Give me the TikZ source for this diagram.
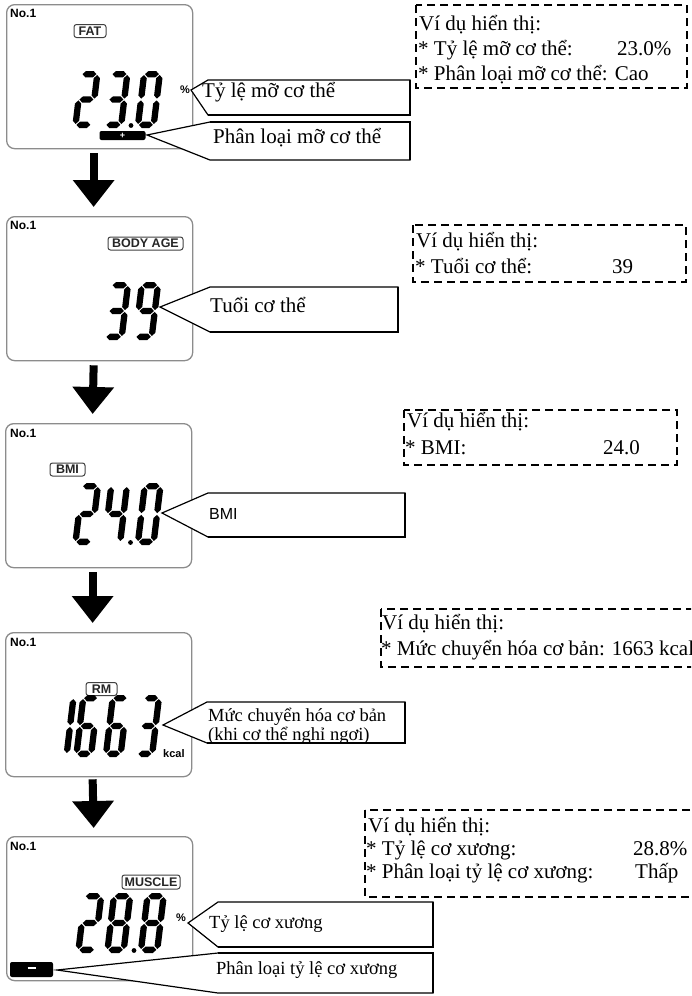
\documentclass[tikz,border=0pt]{standalone}
\usepackage{fontspec}
\setmainfont{Liberation Serif}
\setsansfont{Liberation Sans}
\usetikzlibrary{arrows.meta}

% seven-segment digit machinery
\newcommand\sgT{6.3}
\newcommand\sgG{0.9}
\newcommand\hsegm[3]{\fill (#1,#3) -- ({#1+\sgT/2},{#3-\sgT/2}) -- ({#2-\sgT/2},{#3-\sgT/2}) -- (#2,#3) -- ({#2-\sgT/2},{#3+\sgT/2}) -- ({#1+\sgT/2},{#3+\sgT/2}) -- cycle;}
\newcommand\vsegm[3]{\fill (#1,#2) -- ({#1+\sgT/2},{#2+\sgT/2}) -- ({#1+\sgT/2},{#3-\sgT/2}) -- (#1,#3) -- ({#1-\sgT/2},{#3-\sgT/2}) -- ({#1-\sgT/2},{#2+\sgT/2}) -- cycle;}
\newcommand\sga{\hsegm{\sgT/2+\sgG}{\sgW-\sgT/2-\sgG}{-\sgH+\sgT/2}}
\newcommand\sgg{\hsegm{\sgT/2+\sgG}{\sgW-\sgT/2-\sgG}{-\sgH/2}}
\newcommand\sgd{\hsegm{\sgT/2+\sgG}{\sgW-\sgT/2-\sgG}{-\sgT/2}}
\newcommand\sgf{\vsegm{\sgT/2}{-\sgH+\sgT/2+\sgG}{-\sgH/2-\sgG}}
\newcommand\sgb{\vsegm{\sgW-\sgT/2}{-\sgH+\sgT/2+\sgG}{-\sgH/2-\sgG}}
\newcommand\sge{\vsegm{\sgT/2}{-\sgH/2+\sgG}{-\sgT/2-\sgG}}
\newcommand\sgc{\vsegm{\sgW-\sgT/2}{-\sgH/2+\sgG}{-\sgT/2-\sgG}}
\newcommand\sevenseg[5]{%
  \begin{scope}[shift={(#1,#2)},xslant=0.12]
    \def\sgW{#3}\def\sgH{#4}%
    \foreach \s in {#5}{\csname sg\s\endcsname}
  \end{scope}}

\newcommand\bodyfont{\fontsize{21}{25}\selectfont}
\newcommand\smallbody{\fontsize{18.5}{19}\selectfont}

\tikzset{
  panel/.style={draw=black!45, line width=1.3pt, rounded corners=8pt,
    minimum width=186pt, minimum height=144pt, anchor=north west, inner sep=0pt},
  lcdlabel/.style={draw=black!75, line width=1pt, rounded corners=2.5pt,
    font=\sffamily\bfseries\fontsize{12.5}{12.5}\selectfont, text=black!85,
    inner sep=0pt, minimum height=13pt},
  lcdno/.style={anchor=north west, inner sep=0pt,
    font=\sffamily\bfseries\fontsize{12}{12}\selectfont},
  lcdunit/.style={inner sep=0pt, font=\sffamily\bfseries\fontsize{11}{11}\selectfont},
  signbar/.style={fill=black, rounded corners=2pt, inner sep=0pt, text=white,
    font=\sffamily\bfseries\fontsize{9}{9}\selectfont},
  blockarrow/.style={line width=8pt, -{Triangle[length=27pt,width=40pt]}},
  callout/.style={draw=black, line width=1.2pt, fill=white, line join=miter},
  calloutshadow/.style={draw=black, line width=2.4pt},
  exbox/.style={draw=black, line width=2pt, dash pattern=on 8pt off 5pt},
  txt/.style={anchor=base west, inner sep=0pt, font=\bodyfont},
  stxt/.style={anchor=base west, inner sep=0pt, font=\smallbody},
}

\begin{document}
\begin{tikzpicture}[x=1pt,y=-1pt]
\useasboundingbox (0,0) rectangle (691,996);
\clip (0,0) rectangle (691,996);

% ---------------- panels ----------------
\node[panel] (p1) at (6,4) {};
\node[panel] (p2) at (6,216) {};
\node[panel] (p3) at (5,423) {};
\node[panel] (p4) at (5,632) {};
\node[panel] (p5) at (6,836) {};

\node[lcdno] (n1) at (10,9) {No.1};
\node[lcdno] (n2) at (10,221) {No.1};
\node[lcdno] (n3) at (10,429) {No.1};
\node[lcdno] (n4) at (10,638) {No.1};
\node[lcdno] (n5) at (10,842) {No.1};

\node[lcdlabel, minimum width=32pt] (lfat) at (90,31) {FAT};
\node[lcdlabel, minimum width=75pt] (lage) at (145.5,243.5) {BODY AGE};
\node[lcdlabel, minimum width=35pt] (lbmi) at (67.5,469.5) {BMI};
\node[lcdlabel, minimum width=31pt] (lrm) at (101.5,689) {RM};
\node[lcdlabel, minimum width=58pt, minimum height=14pt] (lmus) at (151,882) {MUSCLE};

% digits panel 1: 23.0
\sevenseg{72}{128}{22}{57}{a,b,g,e,d}
\sevenseg{102}{128}{22}{57}{a,b,g,c,d}
\fill (131,125.5) circle (2.4);
\sevenseg{134.5}{128}{22}{57}{a,b,c,d,e,f}
\node[lcdunit] (u1) at (185,90) {\%};
\node[signbar, minimum width=46pt, minimum height=9pt] (bar1) at (122.5,135.5) {+};

% digits panel 2: 39
\sevenseg{102}{340}{22.5}{58}{a,b,g,c,d}
\sevenseg{132}{340}{22.5}{58}{a,b,c,d,f,g}

% digits panel 3: 24.0
\sevenseg{72}{545}{22}{62}{a,b,g,e,d}
\sevenseg{101}{545}{22}{62}{f,g,b,c}
\fill (130.5,542.5) circle (2.4);
\sevenseg{134.5}{545}{22}{62}{a,b,c,d,e,f}

% digits panel 4: 1663
\sevenseg{49}{757}{20.5}{62}{b,c}
\sevenseg{73}{757}{21}{62}{a,f,g,e,c,d}
\sevenseg{102.5}{757}{21}{62}{a,f,g,e,c,d}
\sevenseg{134}{757}{21}{62}{a,b,g,c,d}
\node[lcdunit, anchor=base west] (u4) at (163,757) {kcal};

% digits panel 5: 28.8
\sevenseg{75}{953}{22.5}{60}{a,b,g,e,d}
\sevenseg{104}{953}{22.5}{60}{a,b,c,d,e,f,g}
\fill (134,950.5) circle (2.4);
\sevenseg{137.5}{953}{22.5}{60}{a,b,c,d,e,f,g}
\node[lcdunit] (u5) at (181,918) {\%};
\node[signbar, minimum width=43pt, minimum height=15pt] (bar5) at (31.5,969.5) {\rule[2.5pt]{8pt}{2pt}};

% ---------------- arrows ----------------
\draw[blockarrow] ([xshift=-6pt,yshift=-4pt]p1.south) -- ([xshift=-6pt,yshift=9pt]p2.north);
\draw[blockarrow] ([xshift=-6pt,yshift=-4pt]p2.south) -- ([xshift=-6pt,yshift=9pt]p3.north);
\draw[blockarrow] ([xshift=-6pt,yshift=-4pt]p3.south) -- ([xshift=-6pt,yshift=9pt]p4.north);
\draw[blockarrow] ([xshift=-6pt,yshift=-2pt]p4.south) -- ([xshift=-6pt,yshift=8pt]p5.north);

% ---------------- callouts ----------------
% 1a
\draw[callout] (191,90) -- (208,80) -- (410,80) -- (410,115) -- (208,115) -- cycle;
\draw[calloutshadow] (410,80) -- (410,115) -- (208,115);
\node[txt] (c1a) at (202,97) {Tỷ lệ mỡ cơ thể};
% 1b
\draw[callout] (147,135) -- (210,122) -- (410,122) -- (410,160) -- (210,160) -- cycle;
\draw[calloutshadow] (210,122) -- (410,122) -- (410,160);
\node[txt] (c1b) at (213,143) {Phân loại mỡ cơ thể};
% 2
\draw[callout] (160,307) -- (210,287) -- (398,287) -- (398,332) -- (210,332) -- cycle;
\draw[calloutshadow] (398,287) -- (398,332) -- (210,332);
\node[txt] (c2) at (210,312) {Tuổi cơ thể};
% 3
\draw[callout] (162,513) -- (208,493) -- (405,493) -- (405,537) -- (208,537) -- cycle;
\draw[calloutshadow] (405,493) -- (405,537) -- (208,537);
\node[anchor=base west, inner sep=0pt, font=\sffamily\fontsize{16}{16}\selectfont] (c3) at (209,519) {BMI};
% 4
\draw[callout] (163,725) -- (207,702) -- (405,702) -- (405,743) -- (207,743) -- cycle;
\draw[calloutshadow] (405,702) -- (405,743) -- (207,743);
\node[stxt] (c4a) at (208,721) {Mức chuyển hóa cơ bản};
\node[stxt] (c4b) at (208,740) {(khi cơ thể nghỉ ngơi)};
% 5a
\draw[callout] (188,923) -- (218,902) -- (433,902) -- (433,947) -- (218,947) -- cycle;
\draw[calloutshadow] (433,902) -- (433,947) -- (218,947);
\node[stxt] (c5a) at (209,928) {Tỷ lệ cơ xương};
% 5b
\draw[callout] (57,970) -- (218,953) -- (433,953) -- (433,993) -- (218,993) -- cycle;
\draw[calloutshadow] (218,953) -- (433,953) -- (433,993);
\node[stxt] (c5b) at (216,974) {Phân loại tỷ lệ cơ xương};

% ---------------- example boxes ----------------
\draw[exbox] (416,5) rectangle (687,88);
\node[txt] (e1a) at (419,30) {Ví dụ hiển thị:};
\node[txt] (e1b) at (418,55) {* Tỷ lệ mỡ cơ thể:};
\node[txt] (e1c) at (617,55) {23.0\%};
\node[txt] (e1d) at (418,80) {* Phân loại mỡ cơ thể: Cao};

\draw[exbox] (413,225) rectangle (686,282);
\node[txt] (e2a) at (416,247) {Ví dụ hiển thị:};
\node[txt] (e2b) at (415,273) {* Tuổi cơ thể:};
\node[txt] (e2c) at (612,273) {39};

\draw[exbox] (404,410) rectangle (677,465);
\node[txt] (e3a) at (407,427) {Ví dụ hiển thị:};
\node[txt] (e3b) at (405,454) {* BMI:};
\node[txt] (e3c) at (603,454) {24.0};

\draw[exbox] (381,609) rectangle (720,667);
\node[txt] (e4a) at (382,629) {Ví dụ hiển thị:};
\node[txt] (e4b) at (381,655) {* Mức chuyển hóa cơ bản: 1663 kcal};

\draw[exbox] (365,810) rectangle (720,897);
\node[txt] (e5a) at (368,832) {Ví dụ hiển thị:};
\node[txt] (e5b) at (366,855) {* Tỷ lệ cơ xương:};
\node[txt] (e5c) at (633,855) {28.8\%};
\node[txt] (e5d) at (366,878) {* Phân loại tỷ lệ cơ xương:};
\node[txt] (e5e) at (635,878) {Thấp};
\end{tikzpicture}
\end{document}
